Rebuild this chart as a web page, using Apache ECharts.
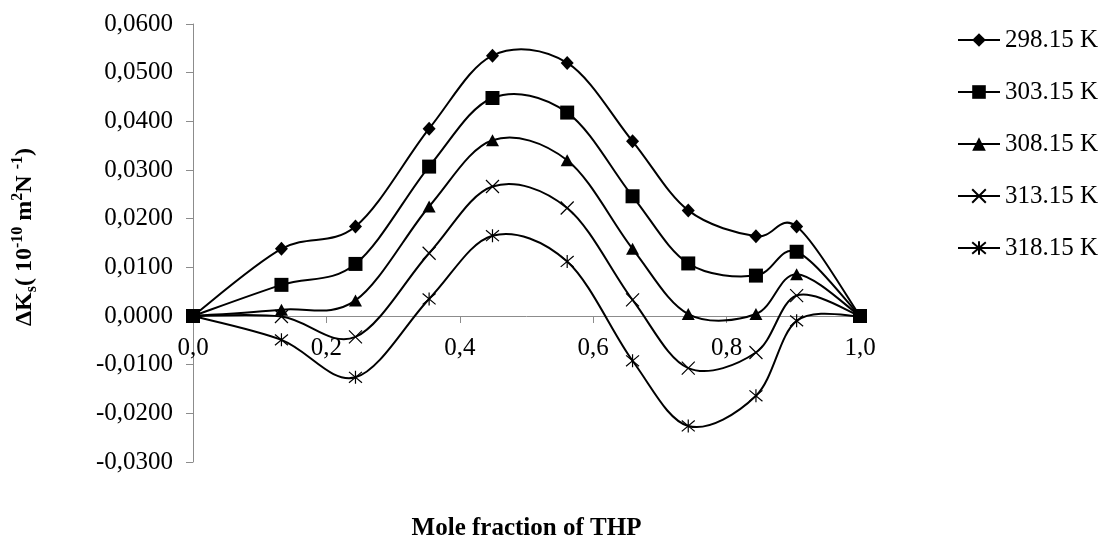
<!DOCTYPE html>
<html>
<head>
<meta charset="utf-8">
<script src="https://cdn.jsdelivr.net/npm/echarts@6/dist/echarts.min.js"></script>
<style>
  html, body { margin: 0; padding: 0; background: #fff; }
  #chart { width: 1105px; height: 538px; }
</style>
</head>
<body>
<div id="chart"></div>
<script>
// Mole fraction of THP (x values)
const xValues = [0, 0.1326, 0.2436, 0.354, 0.449, 0.561, 0.659, 0.7425, 0.844, 0.905, 1.0];
// ΔKs values per temperature
const s298 = [0, 0.0138, 0.0184, 0.0385, 0.0535, 0.0520, 0.0359, 0.0217, 0.0164, 0.0184, 0];
const s303 = [0, 0.0064, 0.0107, 0.0307, 0.0448, 0.0418, 0.0246, 0.0108, 0.0083, 0.0132, 0];
const s308 = [0, 0.0013, 0.0032, 0.0225, 0.0361, 0.0320, 0.0138, 0.0004, 0.0004, 0.0086, 0];
const s313 = [0, -0.0001, -0.0043, 0.0129, 0.0266, 0.0222, 0.0033, -0.0107, -0.0075, 0.0042, 0];
const s318 = [0, -0.0049, -0.0126, 0.0035, 0.0165, 0.0112, -0.0092, -0.0226, -0.0164, -0.0010, 0];
const seriesNames = ['298.15 K', '303.15 K', '308.15 K', '313.15 K', '318.15 K'];
const yTicks = { min: -0.03, max: 0.06, interval: 0.01 };
const xTicks = { min: 0, max: 1, interval: 0.2 };

const FONT = 'Liberation Serif';
const GRID = { left: 193, right: 245, top: 24, bottom: 76 };
const CHART_H = 538;
const symbols = [
  { symbol: 'diamond', size: [13, 14] },
  { symbol: 'rect', size: 14 },
  { symbol: 'triangle', size: [13, 12] },
  { symbol: 'path://M0,0L10,10M10,0L0,10', size: 13 },
  { symbol: 'path://M0,0L10,10M10,0L0,10M5,-1L5,11', size: 13 }
];
const allValues = [s298, s303, s308, s313, s318];

function pairs(vals) { return xValues.map((x, i) => [x, vals[i]]); }

// Excel-like smoothed curve (Catmull-Rom Bezier) through pixel points from the axes
function smoothPath(pts) {
  let d = 'M' + pts[0][0] + ',' + pts[0][1];
  for (let i = 0; i < pts.length - 1; i++) {
    const p0 = pts[i - 1] || pts[i];
    const p1 = pts[i];
    const p2 = pts[i + 1];
    const p3 = pts[i + 2] || pts[i + 1];
    const c1x = p1[0] + (p2[0] - p0[0]) / 6, c1y = p1[1] + (p2[1] - p0[1]) / 6;
    const c2x = p2[0] - (p3[0] - p1[0]) / 6, c2y = p2[1] - (p3[1] - p1[1]) / 6;
    d += ' C' + c1x + ',' + c1y + ' ' + c2x + ',' + c2y + ' ' + p2[0] + ',' + p2[1];
  }
  return d;
}

const symbolSeries = allValues.map((vals, k) => {
  const open = k >= 3;
  return {
    name: seriesNames[k],
    type: 'line',
    data: pairs(vals),
    symbol: symbols[k].symbol,
    symbolSize: symbols[k].size,
    showAllSymbol: true,
    lineStyle: { color: '#000', width: 2, opacity: 0 },
    itemStyle: open
      ? { color: 'rgba(0,0,0,0)', borderColor: '#000', borderWidth: 1.2 }
      : { color: '#000', borderWidth: 0 },
    emphasis: { disabled: true },
    z: 5
  };
});

const curveSeries = {
  type: 'custom',
  coordinateSystem: 'cartesian2d',
  silent: true,
  z: 3,
  data: allValues.map((_, k) => [0, 0, k]),
  encode: { x: 0, y: 1 },
  renderItem: function (params, api) {
    const vals = allValues[params.dataIndex];
    const pts = xValues.map((x, i) => api.coord([x, vals[i]]));
    return {
      type: 'path',
      shape: { pathData: smoothPath(pts) },
      style: { stroke: '#000', lineWidth: 2, fill: null }
    };
  }
};

// shift the x axis up so that it crosses the y axis at zero
const gridH = CHART_H - GRID.top - GRID.bottom;
const xAxisOffset = -gridH * (0 - yTicks.min) / (yTicks.max - yTicks.min);

const chart = echarts.init(document.getElementById('chart'), null, { renderer: 'canvas' });
chart.setOption({
  animation: false,
  backgroundColor: '#fff',
  grid: Object.assign({ containLabel: false, outerBoundsMode: 'none' }, GRID),
  legend: {
    orient: 'vertical',
    left: 957,
    top: 26,
    padding: 0,
    itemWidth: 42,
    itemHeight: 17,
    itemGap: 24,
    data: seriesNames,
    lineStyle: { color: '#000', width: 2, opacity: 1 },
    textStyle: { fontFamily: FONT, fontSize: 25, color: '#000', lineHeight: 28 },
    selectedMode: false
  },
  xAxis: {
    type: 'value',
    position: 'bottom',
    offset: xAxisOffset,
    min: xTicks.min,
    max: xTicks.max,
    interval: xTicks.interval,
    axisLine: { onZero: false, lineStyle: { color: '#8c8c8c', width: 1 } },
    axisTick: { show: true, inside: false, length: 7, lineStyle: { color: '#8c8c8c' } },
    splitLine: { show: false },
    axisLabel: {
      fontFamily: FONT, fontSize: 25, color: '#000', margin: 20,
      formatter: v => v.toFixed(1).replace('.', ',')
    },
    name: 'Mole fraction of THP',
    nameLocation: 'middle',
    nameGap: 200,
    nameTextStyle: { fontFamily: FONT, fontSize: 25, fontWeight: 'bold', color: '#000' }
  },
  yAxis: {
    type: 'value',
    min: yTicks.min,
    max: yTicks.max,
    interval: yTicks.interval,
    axisLine: { show: true, onZero: false, lineStyle: { color: '#8c8c8c', width: 1 } },
    axisTick: { show: true, inside: false, length: 7, lineStyle: { color: '#8c8c8c' } },
    splitLine: { show: false },
    axisLabel: {
      fontFamily: FONT, fontSize: 25, color: '#000', margin: 20,
      formatter: v => v.toFixed(4).replace('.', ',')
    },
    name: '{a|ΔK}{sub|s}{a|( 10}{sup|-10}{a| m}{sup|2}{a|N }{sup|-1}{a|)}',
    nameLocation: 'middle',
    nameGap: 153,
    nameTextStyle: {
      padding: [0, 0, 0, 12],
      rich: {
        a: { fontFamily: FONT, fontSize: 24, fontWeight: 'bold', color: '#000', lineHeight: 30, verticalAlign: 'middle' },
        sup: { fontFamily: FONT, fontSize: 16, fontWeight: 'bold', color: '#000', lineHeight: 16, verticalAlign: 'top' },
        sub: { fontFamily: FONT, fontSize: 16, fontWeight: 'bold', color: '#000', lineHeight: 16, verticalAlign: 'bottom' }
      }
    }
  },
  series: [curveSeries].concat(symbolSeries)
});
</script>
</body>
</html>
